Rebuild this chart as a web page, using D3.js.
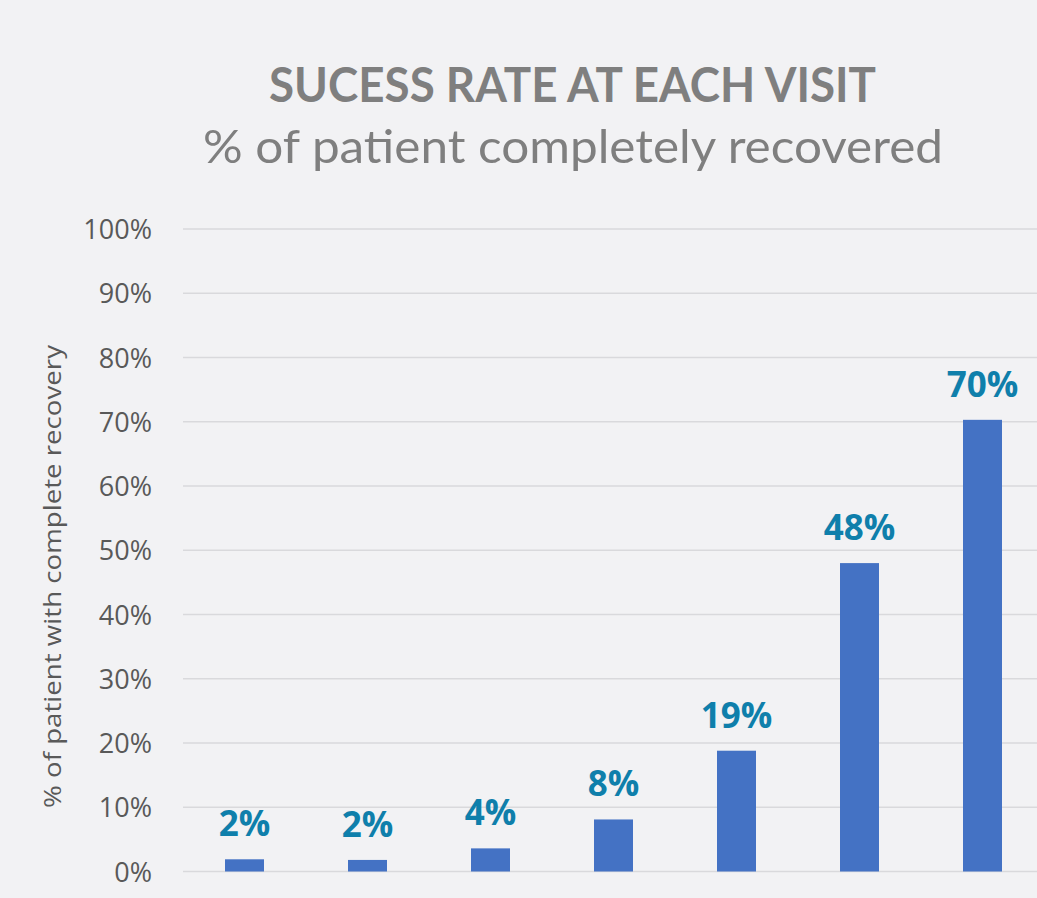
<!DOCTYPE html>
<html>
<head>
<meta charset="utf-8">
<script src="https://cdn.jsdelivr.net/npm/d3@7"></script>
<style>
  html, body { margin: 0; padding: 0; background: #f2f2f4; }
  svg { display: block; }
</style>
</head>
<body>
<div id="chart"></div>
<script>
const categories = ["Visit 1", "Visit 2", "Visit 3", "Visit 4", "Visit 5", "Visit 6", "Visit 7"];
const values = [1.9, 1.8, 3.6, 8.1, 18.8, 48.0, 70.3];
const valueLabels = ["2%", "2%", "4%", "8%", "19%", "48%", "70%"];
const yTicks = [0, 10, 20, 30, 40, 50, 60, 70, 80, 90, 100];
const titleText = "SUCESS RATE AT EACH VISIT";
const subtitleText = "% of patient completely recovered";
const yAxisTitle = "% of patient with complete recovery";

const W = 1037, H = 898;
const svg = d3.select("#chart").append("svg").attr("width", W).attr("height", H);
svg.append("rect").attr("width", W).attr("height", H).attr("fill", "#f2f2f4");

const x = d3.scaleBand().domain(categories).range([183, 183 + 7 * 123])
  .paddingInner(0.683).paddingOuter(0.3415);
const y = d3.scaleLinear().domain([0, 100]).range([871.5, 229]);

function fit(sel, width) {
  const len = sel.node().getComputedTextLength();
  if (len > 0) sel.attr("textLength", width).attr("lengthAdjust", "spacingAndGlyphs");
  return sel;
}

// gridlines
svg.append("g").selectAll("line").data(yTicks).join("line")
  .attr("x1", 183).attr("x2", W)
  .attr("y1", d => y(d)).attr("y2", d => y(d))
  .attr("stroke", "#d9d9dc").attr("stroke-width", 1.6);

// y axis labels
const yAxis = svg.append("g").attr("transform", "translate(152,0)")
  .call(d3.axisLeft(y).tickValues(yTicks).tickFormat(d => d + "%").tickSize(0).tickPadding(0));
yAxis.select(".domain").remove();
yAxis.selectAll("text")
  .attr("font-family", "'Open Sans', sans-serif").attr("font-size", 27)
  .attr("fill", "#595959").attr("dy", "0.36em");

// bars
svg.append("g").selectAll("rect").data(values).join("rect")
  .attr("x", (d, i) => x(categories[i]))
  .attr("width", x.bandwidth())
  .attr("y", d => y(d))
  .attr("height", d => y(0) - y(d))
  .attr("fill", "#4472c4");

// value labels
svg.append("g").selectAll("text").data(values).join("text")
  .attr("x", (d, i) => x(categories[i]) + x.bandwidth() / 2)
  .attr("y", d => y(d) - 23)
  .attr("text-anchor", "middle")
  .attr("font-family", "'Open Sans', sans-serif").attr("font-weight", 700)
  .attr("font-size", 35).attr("fill", "#0f7fab")
  .text((d, i) => valueLabels[i]);

// titles
const t1 = svg.append("text").attr("x", 572.5).attr("y", 102).attr("text-anchor", "middle")
  .attr("font-family", "Lato, sans-serif").attr("font-weight", 700).attr("font-size", 48)
  .attr("fill", "#7f7f7f").text(titleText);
fit(t1, 607);
const t2 = svg.append("text").attr("x", 573).attr("y", 163).attr("text-anchor", "middle")
  .attr("font-family", "Lato, sans-serif").attr("font-size", 47)
  .attr("fill", "#7f7f7f").text(subtitleText);
fit(t2, 740);

// y axis title
const yt = svg.append("text").attr("transform", "translate(61,576.5) rotate(-90)")
  .attr("text-anchor", "middle")
  .attr("font-family", "'Open Sans', sans-serif").attr("font-size", 24)
  .attr("fill", "#595959").text(yAxisTitle);
fit(yt, 463);
</script>
</body>
</html>
